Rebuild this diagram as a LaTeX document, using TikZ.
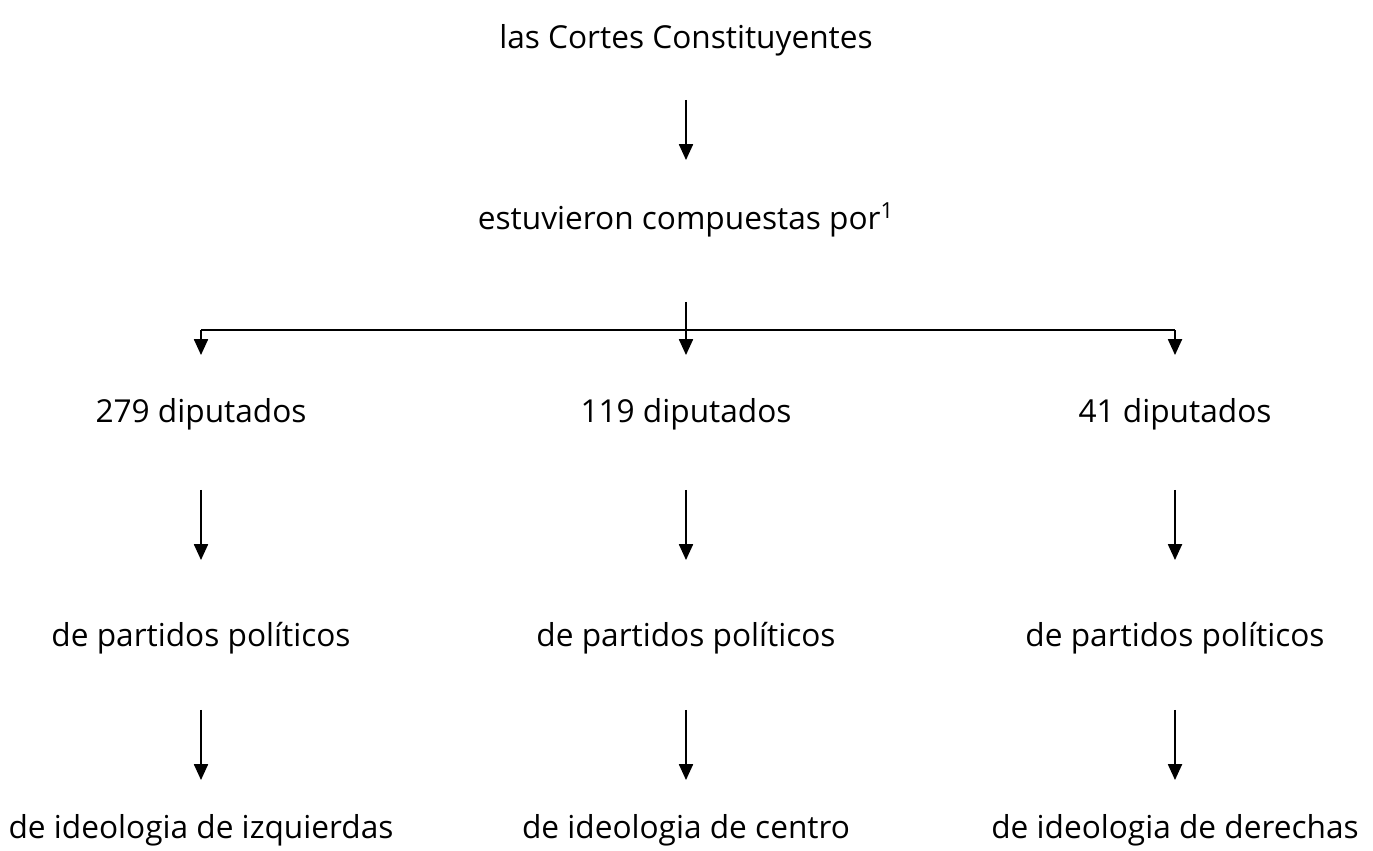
\documentclass[tikz,border=0pt]{standalone}
\usepackage{fontspec}
\setmainfont{Open Sans}
\usetikzlibrary{arrows.meta}

\begin{document}
\begin{tikzpicture}[x=0.02cm,y=0.02cm,
		every node/.style={font=\fontsize{18}{21}\selectfont,inner sep=0pt},
		flecha/.style={-{Triangle[width=8pt,length=9pt]},line width=0.9pt},
		linea/.style={line width=0.9pt}]
		\useasboundingbox (0,0) rectangle (1373,850);

		\node (cortes) at (686,810) {las Cortes Constituyentes};
		\node (compuestas) at (686,630) {estuvieron compuestas por\textsuperscript{1}};

		\node (dip1) at (201,436)  {279 diputados};
		\node (dip2) at (686,436)  {119 diputados};
		\node (dip3) at (1175,436) {41 diputados};

		\node (par1) at (201,212)  {de partidos políticos};
		\node (par2) at (686,212)  {de partidos políticos};
		\node (par3) at (1175,212) {de partidos políticos};

		\node (ide1) at (201,20)  {de ideologia de izquierdas};
		\node (ide2) at (686,20)  {de ideologia de centro};
		\node (ide3) at (1175,20) {de ideologia de derechas};

		\coordinate (rama) at (686,520);

		\draw[flecha,shorten <=1.2cm,shorten >=1.2cm] (cortes.center) -- (compuestas.center);
		\draw[flecha] ([yshift=-1.64cm]compuestas.center) -- ([yshift=1.18cm]dip2.center);
		\draw[linea] (dip1 |- rama) -- (dip3 |- rama);
		\draw[flecha] (dip1 |- rama) -- ([yshift=1.18cm]dip1.center);
		\draw[flecha] (dip3 |- rama) -- ([yshift=1.18cm]dip3.center);

		\foreach \i in {1,2,3} {
			\draw[flecha,shorten <=1.52cm,shorten >=1.56cm] (dip\i.center) -- (par\i.center);
			\draw[flecha,shorten <=1.44cm,shorten >=1.0cm] (par\i.center) -- (ide\i.center);
		}
	\end{tikzpicture}
\end{document}
